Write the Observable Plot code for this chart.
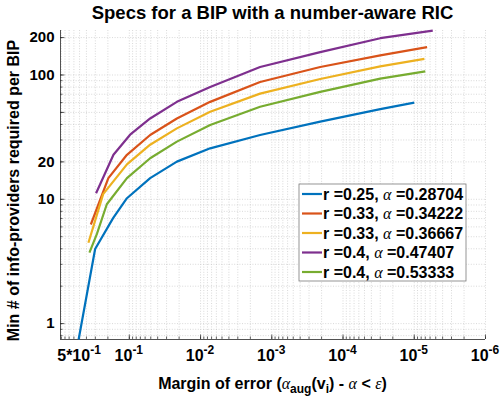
<!DOCTYPE html>
<html><head><meta charset="utf-8">
<script src="https://cdn.jsdelivr.net/npm/d3@7"></script>
<script src="https://cdn.jsdelivr.net/npm/@observablehq/plot@0.6"></script>
<style>
body{margin:0;background:#fff;font-family:"Liberation Sans",Arial,sans-serif;}
#title{margin-left:60px;width:425px;height:26px;line-height:26px;text-align:center;font-weight:bold;font-size:18.5px;color:#000;white-space:nowrap;}
</style></head><body>
<div id="title">Specs for a BIP with a number-aware RIC</div>
<div id="chart"></div>
<script>
// ---- data ----
const seriesR = ["0.25", "0.33", "0.33", "0.4", "0.4"];
const seriesAlpha = ["0.28704", "0.34222", "0.36667", "0.47407", "0.53333"];
const seriesColors = ["#0072BD", "#D95319", "#EDB120", "#7E2F8E", "#77AC30"];

const epsBlue = [0.515, 0.302, 0.169, 0.108, 0.051, 0.0215, 0.00733, 0.00146, 2.09e-4, 3.0e-5, 1.0e-5];
const nBlue   = [0.745, 3.98, 7.05, 10.2, 14.8, 20.1, 25.7, 32.9, 42.1, 53.2, 60];
const epsOrange = [0.347, 0.197, 0.108, 0.051, 0.0215, 0.00733, 0.00146, 2.09e-4, 3.0e-5, 6.6e-6];
const nOrange   = [6.27, 14.8, 22.8, 32.9, 44.7, 60.8, 87.9, 115.9, 143.8, 167.5];
const epsYellow = [0.375, 0.233, 0.108, 0.051, 0.0215, 0.00733, 0.00146, 2.09e-4, 3.0e-5, 7.2e-6];
const nYellow   = [4.47, 11.0, 19.1, 27.5, 37.2, 50.6, 70.8, 92.9, 117.4, 135];
const epsPurple = [0.293, 0.167, 0.0975, 0.051, 0.0215, 0.00733, 0.00146, 2.09e-4, 3.0e-5, 5.5e-6];
const nPurple   = [11.2, 22.8, 33.1, 44.7, 60.8, 80.2, 115.9, 152.8, 197.7, 227.8];
const epsGreen = [0.363, 0.286, 0.207, 0.108, 0.051, 0.0215, 0.00733, 0.00146, 2.09e-4, 3.0e-5, 7.0e-6];
const nGreen   = [3.72, 5.25, 9.12, 14.8, 21.4, 29.1, 39.6, 55.5, 73.1, 93.4, 107];

const xTicks = [0.5, 1e-1, 1e-2, 1e-3, 1e-4, 1e-5, 1e-6];
const xTickBase = ["5*10", "10", "10", "10", "10", "10", "10"];
const xTickExp = ["-1", "-1", "-2", "-3", "-4", "-5", "-6"];
const yTicks = [1, 10, 20, 50, 100, 200];
const xDomain = [0.925, 1e-6];
const yDomain = [0.745, 228];

// ---- build ----
const seriesEps = [epsBlue, epsOrange, epsYellow, epsPurple, epsGreen];
const seriesN = [nBlue, nOrange, nYellow, nPurple, nGreen];
const labels = seriesR.map((r, i) => `r =${r}, α =${seriesAlpha[i]}`);
const rows = [];
seriesEps.forEach((es, i) => es.forEach((e, j) => rows.push({eps: e, n: seriesN[i][j], s: labels[i]})));

// grid positions (1..9 per decade)
const xGrid = [];
for (let d = -6; d <= 0; d++) for (let k = 1; k <= 9; k++) { const v = k * Math.pow(10, d); if (v <= xDomain[0] && v >= xDomain[1]) xGrid.push(v); }
const yGrid = [];
for (let d = -1; d <= 2; d++) for (let k = 1; k <= 9; k++) { const v = k * Math.pow(10, d); if (v >= yDomain[0] && v <= yDomain[1]) yGrid.push(v); }

const W = 501, H = 377, mL = 60, mR = 16, mT = 4, mB = 64;
const pw = W - mL - mR, ph = H - mT - mB;
const axisColor = "#262626";
const font = '"Liberation Sans", Arial, sans-serif';

const chart = Plot.plot({
  width: W, height: H, marginLeft: mL, marginRight: mR, marginTop: mT, marginBottom: mB,
  style: {fontFamily: font, fontSize: "15px", fontWeight: "bold", background: "white", color: "#000", overflow: "visible"},
  x: {type: "log", domain: xDomain, axis: null},
  y: {type: "log", domain: yDomain, ticks: yTicks, tickSize: 0, tickPadding: 6, label: null, tickFormat: (d) => String(d)},
  color: {domain: labels, range: seriesColors},
  marks: [
    Plot.ruleX(xGrid, {stroke: "#c8c8c8", strokeWidth: 0.7, strokeDasharray: "1,1.6"}),
    Plot.ruleY(yGrid, {stroke: "#c8c8c8", strokeWidth: 0.7, strokeDasharray: "1,1.6"}),
    Plot.ruleX(xGrid, {stroke: axisColor, strokeWidth: 0.7, insetTop: ph - 2.5}),
    Plot.ruleX(xTicks, {stroke: axisColor, strokeWidth: 0.7, insetTop: ph - 4.5}),
    Plot.ruleY(yGrid, {stroke: axisColor, strokeWidth: 0.7, insetRight: pw - 2.5}),
    Plot.ruleY(yTicks, {stroke: axisColor, strokeWidth: 0.7, insetRight: pw - 4.5}),
    Plot.ruleX([xDomain[0]], {stroke: axisColor, strokeWidth: 0.8}),
    Plot.ruleY([yDomain[0]], {stroke: axisColor, strokeWidth: 0.8}),
    Plot.line(rows, {x: "eps", y: "n", z: "s", stroke: "s", strokeWidth: 2.2, strokeLinejoin: "round", strokeLinecap: "butt"})
  ]
});
document.getElementById("chart").appendChild(chart);

const svg = d3.select(chart);
const xs = chart.scale("x");
const serif = '"Liberation Serif","DejaVu Serif",serif';

// x tick labels with superscripts
const xt = svg.append("g").attr("font-family", font).attr("font-weight", "bold").attr("font-size", "16px").attr("text-anchor", "middle");
xTicks.forEach((v, i) => {
  const t = xt.append("text").attr("x", xs.apply(v)).attr("y", mT + ph + 22);
  t.append("tspan").attr("font-size", "16px").text(xTickBase[i]);
  t.append("tspan").attr("dy", "-7").attr("font-size", "12px").text(xTickExp[i]);
});

// y label
svg.append("text")
  .attr("transform", `translate(15,${mT + ph / 2 + 6}) rotate(-90)`)
  .attr("text-anchor", "middle").attr("dominant-baseline", "middle")
  .attr("font-size", "16px").attr("font-weight", "bold").attr("font-family", font)
  .text("Min # of info-providers required per BIP");

// x label
const xl = svg.append("text")
  .attr("x", mL + pw / 2).attr("y", H - 14)
  .attr("text-anchor", "middle").attr("font-size", "16px").attr("font-weight", "bold").attr("font-family", font);
xl.append("tspan").text("Margin of error (");
xl.append("tspan").attr("font-family", serif).attr("font-style", "italic").attr("font-weight", "normal").text("α");
xl.append("tspan").attr("dy", "4").attr("font-size", "12px").text("aug");
xl.append("tspan").attr("dy", "-4").text("(v");
xl.append("tspan").attr("dy", "4").attr("font-size", "12px").text("i");
xl.append("tspan").attr("dy", "-4").text(") - ");
xl.append("tspan").attr("font-family", serif).attr("font-style", "italic").attr("font-weight", "normal").text("α");
xl.append("tspan").text(" < ");
xl.append("tspan").attr("font-family", serif).attr("font-style", "italic").attr("font-weight", "normal").text("ε");
xl.append("tspan").text(")");

// legend
const lg = svg.append("g").attr("text-anchor", "start");
const lx = 299, ly = 158, lw = 167, lh = 97;
lg.append("rect").attr("x", lx).attr("y", ly).attr("width", lw).attr("height", lh)
  .attr("fill", "white").attr("stroke", "#7a7a7a").attr("stroke-width", 0.8);
seriesR.forEach((r, i) => {
  const cy = ly + 10 + i * 19.5;
  lg.append("line").attr("x1", lx + 3).attr("x2", lx + 23).attr("y1", cy).attr("y2", cy)
    .attr("stroke", seriesColors[i]).attr("stroke-width", 2.2);
  const t = lg.append("text").attr("x", lx + 24).attr("y", cy).attr("dy", "0.35em")
    .attr("text-anchor", "start").attr("font-size", "16px").attr("font-weight", "bold").attr("font-family", font);
  t.append("tspan").text(`r =${r}, `);
  t.append("tspan").attr("font-family", serif).attr("font-style", "italic").attr("font-weight", "normal").text("α");
  t.append("tspan").text(` =${seriesAlpha[i]}`);
});
</script>
</body></html>
